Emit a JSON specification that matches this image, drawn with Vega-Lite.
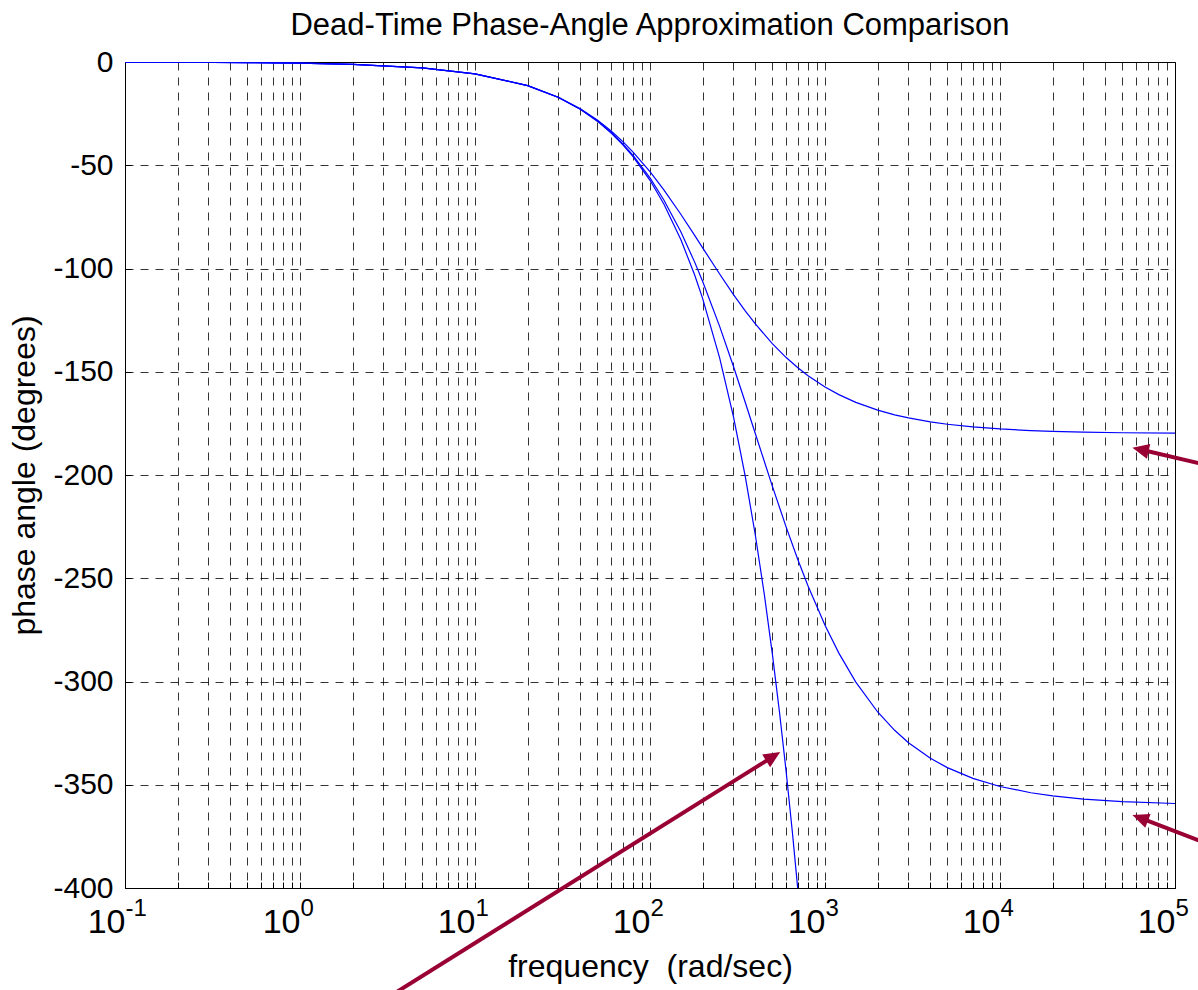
{
  "$schema": "https://vega.github.io/schema/vega-lite/v6.json",
  "width": 1050,
  "height": 826,
  "autosize": {"type": "none"},
  "padding": {"left": 125, "top": 62, "right": 23, "bottom": 102},
  "background": "white",
  "title": {"text": "Dead-Time Phase-Angle Approximation Comparison", "fontSize": 31, "font": "Liberation Sans", "fontWeight": "normal", "color": "black", "offset": 5},
  "config": {"view": {"stroke": "black", "strokeWidth": 1}},
  "resolve": {"axis": {"x": "independent"}},
  "datasets": {
    "curves": [
      {"w": 0.1, "phase": -0.0573, "s": "exact"}, {"w": 0.2, "phase": -0.1146, "s": "exact"}, {"w": 0.5, "phase": -0.2865, "s": "exact"}, {"w": 1, "phase": -0.573, "s": "exact"}, {"w": 2, "phase": -1.146, "s": "exact"}, {"w": 5, "phase": -2.865, "s": "exact"}, {"w": 10, "phase": -5.73, "s": "exact"}, {"w": 20, "phase": -11.459, "s": "exact"}, {"w": 30, "phase": -17.189, "s": "exact"}, {"w": 40, "phase": -22.918, "s": "exact"}, {"w": 50, "phase": -28.648, "s": "exact"}, {"w": 60, "phase": -34.377, "s": "exact"}, {"w": 70, "phase": -40.107, "s": "exact"}, {"w": 80, "phase": -45.837, "s": "exact"}, {"w": 100, "phase": -57.296, "s": "exact"}, {"w": 120, "phase": -68.755, "s": "exact"}, {"w": 150, "phase": -85.944, "s": "exact"}, {"w": 180, "phase": -103.13, "s": "exact"}, {"w": 200, "phase": -114.59, "s": "exact"}, {"w": 250, "phase": -143.24, "s": "exact"}, {"w": 300, "phase": -171.89, "s": "exact"}, {"w": 350, "phase": -200.54, "s": "exact"}, {"w": 400, "phase": -229.18, "s": "exact"}, {"w": 450, "phase": -257.83, "s": "exact"}, {"w": 500, "phase": -286.48, "s": "exact"}, {"w": 550, "phase": -315.13, "s": "exact"}, {"w": 600, "phase": -343.77, "s": "exact"}, {"w": 650, "phase": -372.42, "s": "exact"}, {"w": 698, "phase": -399.93, "s": "exact"},
      {"w": 0.1, "phase": -0.0573, "s": "pade1"}, {"w": 0.2, "phase": -0.1146, "s": "pade1"}, {"w": 0.5, "phase": -0.2865, "s": "pade1"}, {"w": 1, "phase": -0.573, "s": "pade1"}, {"w": 2, "phase": -1.146, "s": "pade1"}, {"w": 5, "phase": -2.864, "s": "pade1"}, {"w": 10, "phase": -5.725, "s": "pade1"}, {"w": 20, "phase": -11.421, "s": "pade1"}, {"w": 30, "phase": -17.061, "s": "pade1"}, {"w": 40, "phase": -22.62, "s": "pade1"}, {"w": 50, "phase": -28.072, "s": "pade1"}, {"w": 60, "phase": -33.398, "s": "pade1"}, {"w": 70, "phase": -38.58, "s": "pade1"}, {"w": 80, "phase": -43.602, "s": "pade1"}, {"w": 100, "phase": -53.13, "s": "pade1"}, {"w": 120, "phase": -61.927, "s": "pade1"}, {"w": 150, "phase": -73.74, "s": "pade1"}, {"w": 180, "phase": -83.974, "s": "pade1"}, {"w": 200, "phase": -90.0, "s": "pade1"}, {"w": 250, "phase": -102.68, "s": "pade1"}, {"w": 300, "phase": -112.62, "s": "pade1"}, {"w": 350, "phase": -120.51, "s": "pade1"}, {"w": 400, "phase": -126.87, "s": "pade1"}, {"w": 500, "phase": -136.4, "s": "pade1"}, {"w": 600, "phase": -143.13, "s": "pade1"}, {"w": 700, "phase": -148.1, "s": "pade1"}, {"w": 800, "phase": -151.93, "s": "pade1"}, {"w": 1000, "phase": -157.38, "s": "pade1"}, {"w": 1200, "phase": -161.08, "s": "pade1"}, {"w": 1500, "phase": -164.81, "s": "pade1"}, {"w": 2000, "phase": -168.58, "s": "pade1"}, {"w": 2500, "phase": -170.85, "s": "pade1"}, {"w": 3000, "phase": -172.37, "s": "pade1"}, {"w": 4000, "phase": -174.27, "s": "pade1"}, {"w": 5000, "phase": -175.42, "s": "pade1"}, {"w": 7000, "phase": -176.73, "s": "pade1"}, {"w": 10000, "phase": -177.71, "s": "pade1"}, {"w": 15000, "phase": -178.47, "s": "pade1"}, {"w": 20000, "phase": -178.85, "s": "pade1"}, {"w": 30000, "phase": -179.24, "s": "pade1"}, {"w": 50000, "phase": -179.54, "s": "pade1"}, {"w": 100000, "phase": -179.77, "s": "pade1"},
      {"w": 0.1, "phase": -0.0573, "s": "pade2"}, {"w": 0.2, "phase": -0.1146, "s": "pade2"}, {"w": 0.5, "phase": -0.2865, "s": "pade2"}, {"w": 1, "phase": -0.573, "s": "pade2"}, {"w": 2, "phase": -1.146, "s": "pade2"}, {"w": 5, "phase": -2.865, "s": "pade2"}, {"w": 10, "phase": -5.728, "s": "pade2"}, {"w": 20, "phase": -11.45, "s": "pade2"}, {"w": 30, "phase": -17.157, "s": "pade2"}, {"w": 40, "phase": -22.842, "s": "pade2"}, {"w": 50, "phase": -28.5, "s": "pade2"}, {"w": 60, "phase": -34.123, "s": "pade2"}, {"w": 70, "phase": -39.705, "s": "pade2"}, {"w": 80, "phase": -45.239, "s": "pade2"}, {"w": 100, "phase": -56.145, "s": "pade2"}, {"w": 120, "phase": -66.796, "s": "pade2"}, {"w": 150, "phase": -82.223, "s": "pade2"}, {"w": 180, "phase": -96.91, "s": "pade2"}, {"w": 200, "phase": -106.26, "s": "pade2"}, {"w": 250, "phase": -128.02, "s": "pade2"}, {"w": 300, "phase": -147.48, "s": "pade2"}, {"w": 350, "phase": -164.74, "s": "pade2"}, {"w": 400, "phase": -180.0, "s": "pade2"}, {"w": 500, "phase": -205.36, "s": "pade2"}, {"w": 600, "phase": -225.24, "s": "pade2"}, {"w": 700, "phase": -241.02, "s": "pade2"}, {"w": 800, "phase": -253.74, "s": "pade2"}, {"w": 1000, "phase": -272.79, "s": "pade2"}, {"w": 1200, "phase": -286.26, "s": "pade2"}, {"w": 1500, "phase": -300.27, "s": "pade2"}, {"w": 2000, "phase": -314.76, "s": "pade2"}, {"w": 2500, "phase": -323.64, "s": "pade2"}, {"w": 3000, "phase": -329.62, "s": "pade2"}, {"w": 4000, "phase": -337.15, "s": "pade2"}, {"w": 5000, "phase": -341.7, "s": "pade2"}, {"w": 7000, "phase": -346.92, "s": "pade2"}, {"w": 10000, "phase": -350.83, "s": "pade2"}, {"w": 15000, "phase": -353.88, "s": "pade2"}, {"w": 20000, "phase": -355.41, "s": "pade2"}, {"w": 30000, "phase": -356.94, "s": "pade2"}, {"w": 50000, "phase": -358.16, "s": "pade2"}, {"w": 100000, "phase": -359.08, "s": "pade2"}
    ],
    "arrows": [
      {"id": "a1", "x1": 139000, "y1": -194.4, "x2": 63500, "y2": -187.65},
      {"id": "a2", "x1": 139000, "y1": -377.14, "x2": 63240, "y2": -366.05},
      {"id": "a3", "x1": 3.02, "y1": -454.2, "x2": 505.8, "y2": -336.32}
    ]
  },
  "layer": [
    {
      "data": {"name": "curves"},
      "mark": {"type": "line", "color": "#0000ff", "strokeWidth": 1.2, "clip": true},
      "encoding": {
        "x": {
          "field": "w", "type": "quantitative",
          "scale": {"type": "log", "domain": [0.1, 100000], "nice": false},
          "title": "frequency\u00a0 (rad/sec)",
          "axis": {
            "orient": "bottom",
            "values": [0.1, 0.2, 0.3, 0.4, 0.5, 0.6, 0.7, 0.8, 0.9, 1, 2, 3, 4, 5, 6, 7, 8, 9, 10, 20, 30, 40, 50, 60, 70, 80, 90, 100, 200, 300, 400, 500, 600, 700, 800, 900, 1000, 2000, 3000, 4000, 5000, 6000, 7000, 8000, 9000, 10000, 20000, 30000, 40000, 50000, 60000, 70000, 80000, 90000, 100000],
            "labelExpr": "(datum.value==0.1||datum.value==1||datum.value==10||datum.value==100||datum.value==1000||datum.value==10000||datum.value==100000)?'10':''",
            "labelFlush": false, "labelOverlap": false,
            "labelFont": "Liberation Sans", "labelFontSize": 34, "labelColor": "black",
            "labelAlign": "right", "labelDx": 10,
            "labelPadding": 23,
            "tickSize": -6, "tickColor": "black",
            "domainColor": "black",
            "grid": true, "gridColor": "black", "gridDash": [8, 7], "gridOpacity": 0.8, "gridWidth": 1,
            "titleFont": "Liberation Sans", "titleFontSize": 32, "titleFontWeight": "normal", "titleColor": "black", "titlePadding": 12
          }
        },
        "y": {
          "field": "phase", "type": "quantitative",
          "scale": {"domain": [-400, 0], "nice": false, "zero": false},
          "title": "phase angle (degrees)",
          "axis": {
            "values": [-400, -350, -300, -250, -200, -150, -100, -50, 0],
            "labelExpr": "'' + datum.value",
            "labelFont": "Liberation Sans", "labelFontSize": 30, "labelColor": "black",
            "labelPadding": 18,
            "tickSize": -6, "tickColor": "black",
            "domainColor": "black",
            "grid": true, "gridColor": "black", "gridDash": [8, 7], "gridOpacity": 0.8, "gridWidth": 1,
            "titleFont": "Liberation Sans", "titleFontSize": 32, "titleFontWeight": "normal", "titleColor": "black", "titlePadding": 11
          }
        },
        "detail": {"field": "s"}
      }
    },
    {
      "data": {"name": "arrows"},
      "mark": {"type": "rule", "color": "#990033", "strokeWidth": 4, "clip": false},
      "encoding": {
        "x": {
          "field": "x1", "type": "quantitative",
          "scale": {"type": "log", "domain": [0.1, 100000], "nice": false},
          "title": null,
          "axis": {
            "orient": "bottom",
            "values": [0.1, 1, 10, 100, 1000, 10000, 100000],
            "labelExpr": "datum.value==0.1?'-1':datum.value==1?'0':datum.value==10?'1':datum.value==100?'2':datum.value==1000?'3':datum.value==10000?'4':'5'",
            "labelFlush": false, "labelOverlap": false,
            "labelFont": "Liberation Sans", "labelFontSize": 24, "labelColor": "black",
            "labelAlign": "left", "labelDx": 11, "labelPadding": 8,
            "ticks": false, "domain": false, "grid": false
          }
        },
        "y": {"field": "y1", "type": "quantitative"},
        "x2": {"field": "x2"},
        "y2": {"field": "y2"}
      }
    },
    {
      "data": {"name": "arrows"},
      "transform": [{"filter": "datum.id == 'a1'"}],
      "mark": {"type": "point", "shape": "M0,-0.5L-0.45,0.5L0.45,0.5Z", "size": 1100, "filled": true, "color": "#990033", "opacity": 1, "angle": 283, "clip": false, "strokeWidth": 0},
      "encoding": {"x": {"field": "x2", "type": "quantitative", "axis": null}, "y": {"field": "y2", "type": "quantitative"}}
    },
    {
      "data": {"name": "arrows"},
      "transform": [{"filter": "datum.id == 'a2'"}],
      "mark": {"type": "point", "shape": "M0,-0.5L-0.45,0.5L0.45,0.5Z", "size": 1100, "filled": true, "color": "#990033", "opacity": 1, "angle": 291, "clip": false, "strokeWidth": 0},
      "encoding": {"x": {"field": "x2", "type": "quantitative", "axis": null}, "y": {"field": "y2", "type": "quantitative"}}
    },
    {
      "data": {"name": "arrows"},
      "transform": [{"filter": "datum.id == 'a3'"}],
      "mark": {"type": "point", "shape": "M0,-0.5L-0.45,0.5L0.45,0.5Z", "size": 1100, "filled": true, "color": "#990033", "opacity": 1, "angle": 58, "clip": false, "strokeWidth": 0},
      "encoding": {"x": {"field": "x2", "type": "quantitative", "axis": null}, "y": {"field": "y2", "type": "quantitative"}}
    }
  ]
}
